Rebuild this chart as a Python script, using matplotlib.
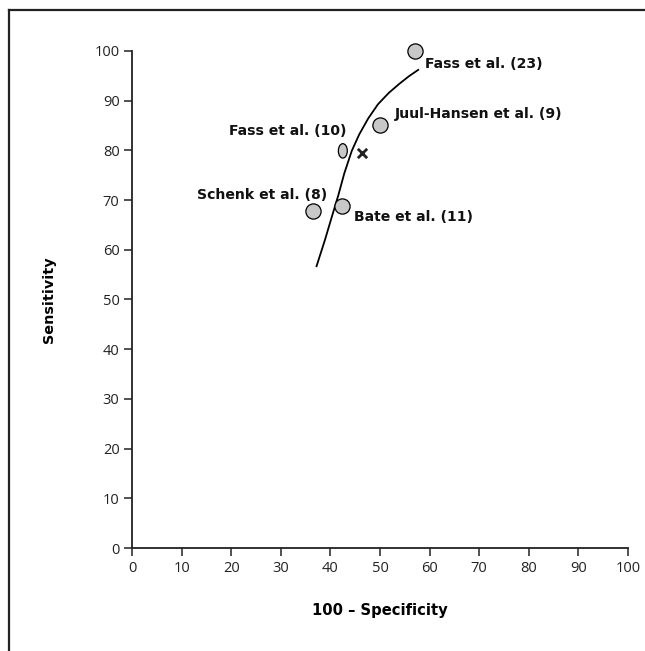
import matplotlib
matplotlib.use("Agg")
import matplotlib.pyplot as plt
from matplotlib.lines import Line2D
from matplotlib.patches import Ellipse

plt.rcParams["font.family"] = ["Open Sans", "DejaVu Sans"]

# study points (100 - specificity, sensitivity)
study_names = ["Fass et al. (23)", "Juul-Hansen et al. (9)", "Schenk et al. (8)", "Bate et al. (11)"]
study_x = [57.1, 50.0, 36.5, 42.3]
study_y = [100.0, 85.1, 67.8, 68.8]

# Fass et al. (10) is drawn as a narrow ellipse
fass10_name = "Fass et al. (10)"
fass10_x = 42.5
fass10_y = 79.9

# pooled estimate (x)
pooled_x = [46.4]
pooled_y = [79.5]

# summary ROC curve
curve_x = [37.2, 38.9, 40.3, 41.6, 42.8, 44.3, 45.8, 47.6, 49.6, 51.8, 53.9, 55.8, 57.7]
curve_y = [56.7, 62.0, 66.7, 71.0, 75.4, 79.9, 83.2, 86.4, 89.3, 91.6, 93.4, 94.9, 96.2]

ticks = [0, 10, 20, 30, 40, 50, 60, 70, 80, 90, 100]

fig = plt.figure(figsize=(6.45, 6.51), dpi=100)
ax = fig.add_axes([0.2047, 0.1582, 0.7690, 0.7635])

# frame lines top and left
fig.add_artist(Line2D([0.014, 1.0], [0.984, 0.984], color="#222222", lw=1.6, transform=fig.transFigure))
fig.add_artist(Line2D([0.014, 0.014], [0.0, 0.984], color="#222222", lw=1.6, transform=fig.transFigure))

ax.plot(curve_x, curve_y, color="black", lw=1.3, zorder=2, solid_joinstyle="round")
ax.scatter(study_x, study_y, s=120, facecolor="#c8c8c8", edgecolor="black",
           linewidth=0.9, zorder=3, clip_on=False)
ax.add_patch(Ellipse((fass10_x, fass10_y), 1.8, 2.9, facecolor="#c8c8c8",
                     edgecolor="black", linewidth=0.9, zorder=3))
ax.scatter(pooled_x, pooled_y, s=45, marker="x", color="#222222", linewidth=2.0, zorder=3)

lab = dict(fontsize=10.1, fontweight="bold", color="#111111", va="center",
           family=["DejaVu Sans"])
ax.text(59.0, 97.3, study_names[0], ha="left", **lab)
ax.text(53.0, 87.3, study_names[1], ha="left", **lab)
ax.text(43.2, 83.8, fass10_name, ha="right", **lab)
ax.text(39.3, 71.0, study_names[2], ha="right", **lab)
ax.text(44.8, 66.5, study_names[3], ha="left", **lab)

ax.set_xlim(0, 100)
ax.set_ylim(0, 100)
ax.set_xticks(ticks)
ax.set_yticks(ticks)
ax.tick_params(direction="out", length=6, width=1.1, labelsize=10.5, pad=3,
               color="#222222", labelcolor="#222222")
for s in ["top", "right"]:
    ax.spines[s].set_visible(False)
for s in ["left", "bottom"]:
    ax.spines[s].set_linewidth(1.3)
    ax.spines[s].set_color("#222222")

ax.set_xlabel("100 \u2013 Specificity", fontsize=10.6, fontweight="bold", labelpad=20,
              family=["DejaVu Sans"])
ax.set_ylabel("Sensitivity", fontsize=10.4, fontweight="bold", labelpad=28,
              family=["DejaVu Sans"])

fig.savefig("out.png", dpi=100)
